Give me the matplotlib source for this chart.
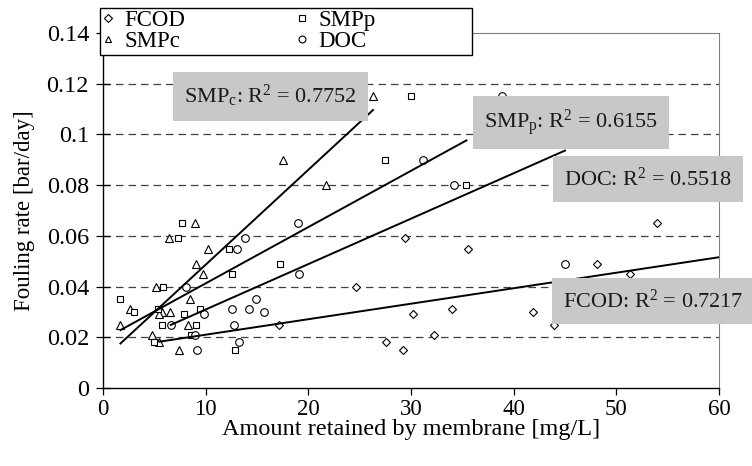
import matplotlib
matplotlib.use("Agg")
import matplotlib.pyplot as plt
from matplotlib.patches import Rectangle
import numpy as np

plt.rcParams['font.family'] = ['Liberation Serif', 'DejaVu Serif']
plt.rcParams['mathtext.fontset'] = 'custom'
plt.rcParams['mathtext.rm'] = 'Liberation Serif'
plt.rcParams['mathtext.it'] = 'Liberation Serif:italic'

# Amount retained by membrane [mg/L] vs fouling rate [bar/day]
fcod_x = [17.1, 24.6, 27.6, 29.2, 29.4, 30.2, 32.2, 34.0, 35.6, 41.9, 43.9, 48.1, 51.3, 54.0]
fcod_y = [0.025, 0.040, 0.018, 0.015, 0.059, 0.029, 0.021, 0.031, 0.055, 0.030, 0.025, 0.049, 0.045, 0.065]

smpc_x = [1.7, 2.6, 4.8, 5.2, 5.5, 5.7, 6.5, 5.5, 6.4, 7.4, 8.3, 8.5, 9.0, 9.1, 9.7, 10.2, 17.5, 21.7, 26.3]
smpc_y = [0.025, 0.031, 0.021, 0.040, 0.018, 0.030, 0.030, 0.029, 0.059, 0.015, 0.025, 0.035, 0.065, 0.049, 0.045, 0.055, 0.090, 0.080, 0.115]

smpp_x = [1.7, 3.0, 5.0, 5.4, 5.7, 5.8, 7.3, 7.7, 7.9, 8.6, 9.1, 9.4, 12.3, 12.6, 12.9, 17.2, 27.5, 30.0, 35.4]
smpp_y = [0.035, 0.030, 0.018, 0.031, 0.025, 0.040, 0.059, 0.065, 0.029, 0.021, 0.025, 0.031, 0.055, 0.045, 0.015, 0.049, 0.090, 0.115, 0.080]

doc_x = [6.6, 8.1, 9.0, 9.2, 9.8, 12.6, 12.8, 13.1, 13.2, 13.8, 14.2, 14.9, 15.7, 19.0, 19.1, 31.2, 34.2, 38.9, 45.0]
doc_y = [0.025, 0.040, 0.021, 0.015, 0.029, 0.031, 0.025, 0.055, 0.018, 0.059, 0.031, 0.035, 0.030, 0.065, 0.045, 0.090, 0.080, 0.115, 0.049]

series_names = ['FCOD', 'SMPc', 'SMPp', 'DOC']

# Linear trendlines: slope, intercept and x-range of each fitted line
trend_slope = [0.000611, 0.003743, 0.002220, 0.001791]
trend_intercept = [0.01491, 0.01119, 0.01906, 0.01305]
trend_x_start = [5.5, 1.7, 1.7, 6.6]
trend_x_end = [60.0, 26.3, 35.4, 45.0]
r_squared = ['0.7217', '0.7752', '0.6155', '0.5518']
trend_labels = ['FCOD', 'SMP$_\\mathrm{c}$', 'SMP$_\\mathrm{p}$', 'DOC']

y_ticks = [0, 0.02, 0.04, 0.06, 0.08, 0.10, 0.12, 0.14]
y_tick_labels = ['0', '0.02', '0.04', '0.06', '0.08', '0.1', '0.12', '0.14']
x_ticks = [0, 10, 20, 30, 40, 50, 60]

W, H = 752, 466
fig = plt.figure(figsize=(W / 100, H / 100), dpi=100)
ax = fig.add_axes([103 / W, 1 - 388 / H, (719 - 103) / W, (388 - 33) / H])

ax.set_xlim(0, 60)
ax.set_ylim(0, 0.14)

for yv in y_ticks[1:-1]:
    ax.axhline(yv, color='#404040', lw=0.9, ls=(0, (6, 4)), zorder=1)

mk = dict(ls='none', mfc='white', mec='black', mew=0.8, zorder=3)
ax.plot(fcod_x, fcod_y, marker='D', ms=4.2, label='FCOD', **mk)
ax.plot(smpc_x, smpc_y, marker='^', ms=5.5, label='SMPc', **mk)
ax.plot(smpp_x, smpp_y, marker='s', ms=5.0, label='SMPp', **mk)
ax.plot(doc_x, doc_y, marker='o', ms=5.5, label='DOC', **mk)

for s, b, x0, x1 in zip(trend_slope, trend_intercept, trend_x_start, trend_x_end):
    xs = np.array([x0, x1])
    ax.plot(xs, s * xs + b, color='black', lw=1.4, zorder=4)

# R-squared boxes (centre positions in data units)
box_pos = [(53.6, 0.0343), (16.3, 0.1150), (45.6, 0.1048), (53.1, 0.0824)]
for name, r2, (bx, by) in zip(trend_labels, r_squared, box_pos):
    ax.text(bx, by, f'{name}: R$^2$ = {r2}', ha='center', va='center', fontsize=16,
            color='#1a1a1a', zorder=6, clip_on=False,
            bbox=dict(boxstyle='square,pad=0.5', fc='#c8c8c8', ec='none'))

ax.set_xticks(x_ticks)
ax.set_yticks(y_ticks)
ax.set_yticklabels(y_tick_labels)
ax.tick_params(axis='y', direction='inout', length=10, width=0.9, labelsize=17.5, pad=5)
ax.tick_params(axis='x', direction='out', length=5, width=0.9, labelsize=16.5, pad=3)
for side in ['top', 'right']:
    ax.spines[side].set_color('#808080')
for side in ['left', 'bottom']:
    ax.spines[side].set_linewidth(1.0)

ax.set_xlabel('Amount retained by membrane [mg/L]', fontsize=17.5, labelpad=-1)
ax.set_ylabel('Fouling rate [bar/day]', fontsize=16.5, labelpad=8)

# Legend frame drawn separately so it can be wider than its entries
ax.add_patch(Rectangle((100 / W, 1 - 55 / H), 372 / W, 47 / H, transform=fig.transFigure,
                       fc='white', ec='black', lw=1.0, zorder=9, clip_on=False))
leg = ax.legend(loc='upper left', bbox_to_anchor=(99 / W, 1 - 8 / H), bbox_transform=fig.transFigure,
                ncol=2, fontsize=16.5, frameon=False, borderaxespad=0,
                handlelength=0.6, handletextpad=0.4, columnspacing=4.8, labelspacing=0.0,
                borderpad=0.1, markerscale=0.9)
leg.set_zorder(10)

fig.savefig('out.png', dpi=100)
